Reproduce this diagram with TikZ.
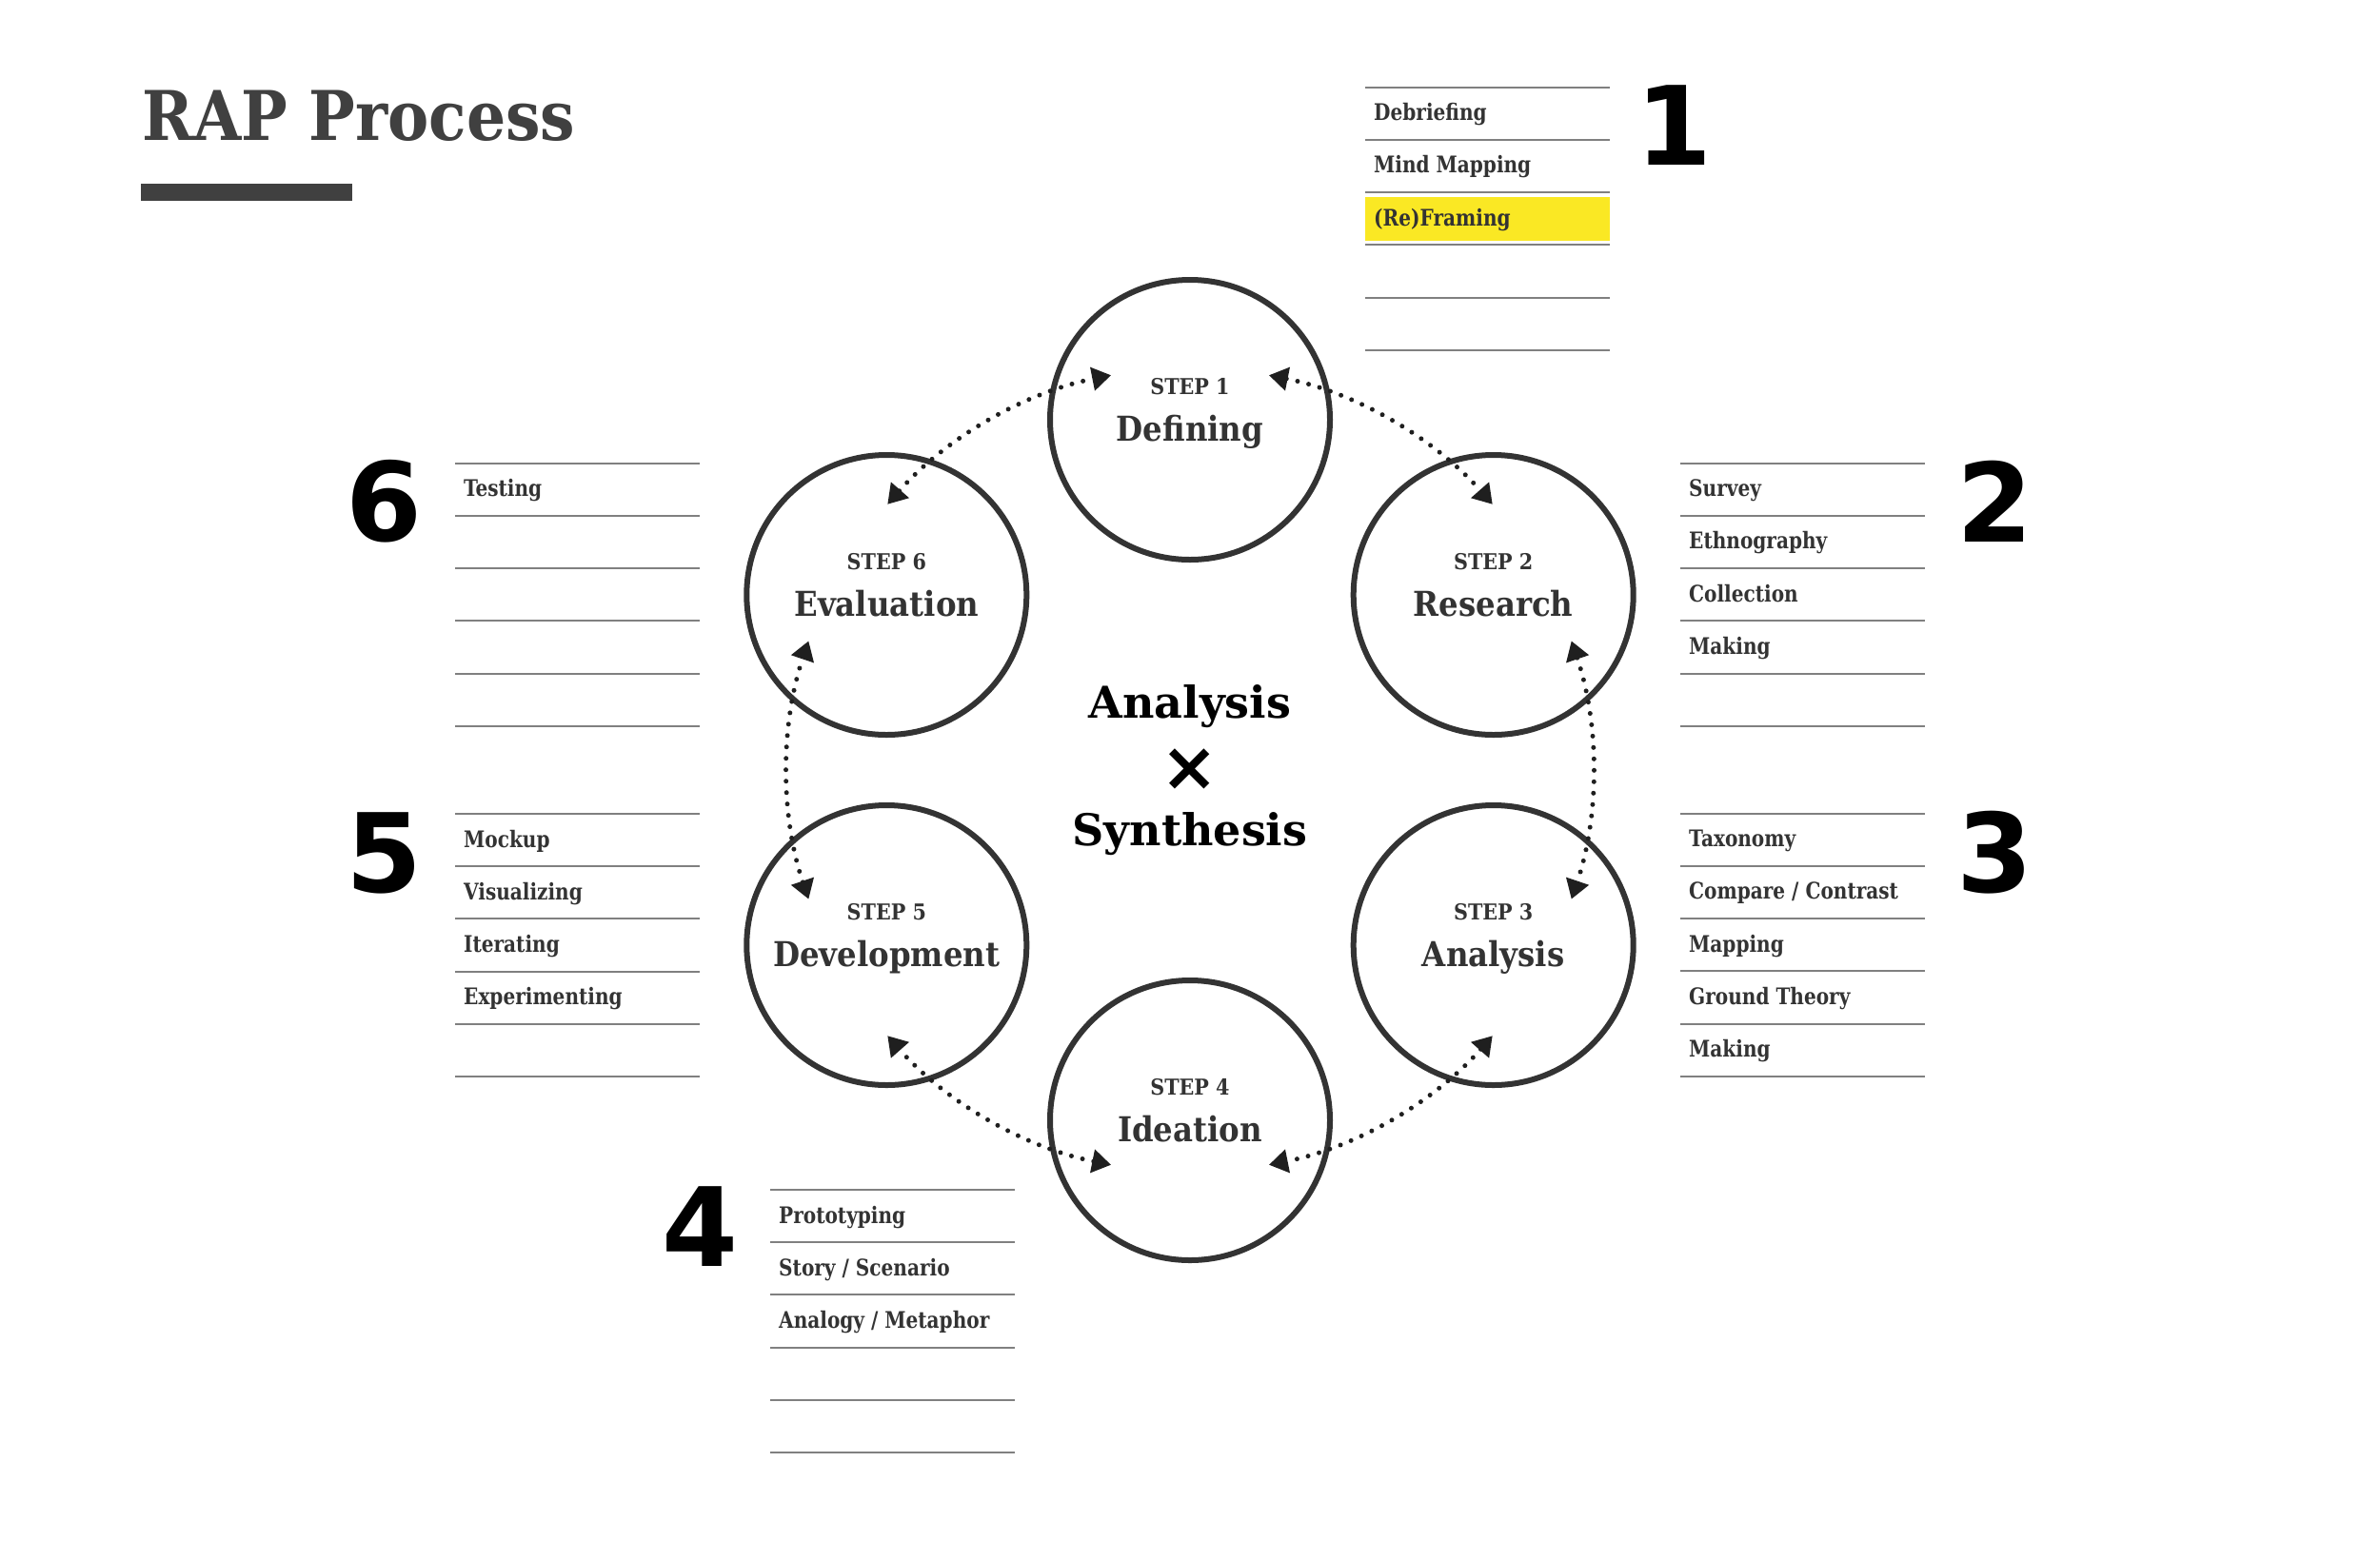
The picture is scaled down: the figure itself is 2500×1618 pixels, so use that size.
\documentclass[tikz,border=0pt]{standalone}
\usepackage{fontspec}
\setmainfont{DejaVu Serif Condensed}
\newfontfamily\numfont{DejaVu Sans}
\newfontfamily\widefont{DejaVu Serif}
\usetikzlibrary{arrows.meta,calc}
\definecolor{ink}{HTML}{333333}
\definecolor{rulegray}{HTML}{808080}
\definecolor{hl}{HTML}{FAE824}
\definecolor{titlegray}{HTML}{404040}
\tikzset{
  stepcircle/.style={circle, draw=ink, line width=6pt, minimum size=294pt, inner sep=0pt, fill=white},
  steplabel/.style={font=\bfseries\fontsize{23}{23}\selectfont, text=ink, anchor=base, inner sep=0pt},
  stepname/.style={font=\bfseries\fontsize{36}{36}\selectfont, text=ink, anchor=base, inner sep=0pt},
  listitem/.style={font=\bfseries\fontsize{24}{24}\selectfont, text=ink, anchor=base west, inner sep=0pt},
  listrule/.style={draw=rulegray, line width=2pt},
  bignum/.style={font=\numfont\bfseries\fontsize{115}{115}\selectfont, text=black, inner sep=0pt},
  centertext/.style={font=\widefont\bfseries\fontsize{46}{46}\selectfont, text=black, anchor=base, inner sep=0pt},
  cyclearrow/.style={line width=5pt, line cap=round, dash pattern=on 0pt off 12pt, draw=black!88,
    {Triangle[length=20pt,width=24pt]}-{Triangle[length=20pt,width=24pt]}},
}
\newcommand\rapdrawlist[4]{%
  \foreach \k in {0,...,5} \draw[listrule] (#1,#2+\k*55.2) -- ++(257,0);
  \foreach \t [count=\k from 0] in {#4} \node[listitem] (#3-\k) at (#1+9,#2+35+\k*55.2) {\scalebox{0.93}[1]{\t}};
}
\begin{document}
\begin{tikzpicture}[x=1pt,y=-1pt]
\useasboundingbox (0,0) rectangle (2500,1618);
\fill[white] (0,0) rectangle (2500,1618);

% title
\node[anchor=base west, inner sep=0pt, font=\bfseries\fontsize{72}{72}\selectfont, text=titlegray] (title) at (149,147) {RAP Process};
\fill[titlegray] (148,193) rectangle (370,211);

% circles
\coordinate (O) at (1250,809);
\foreach \i/\ang in {1/-90,2/-30,3/30,4/90,5/150,6/210}
  \node[stepcircle] (s\i) at ($(O)+(\ang:368)$) {};

\foreach \i/\nm in {1/Defining,2/Research,3/Analysis,4/Ideation,5/Development,6/Evaluation}{
  \node[steplabel] (st\i) at ($(s\i.center)+(0,-27)$) {STEP \i};
  \node[stepname] (nm\i) at ($(s\i.center)+(0,22)$) {\nm};
}

% dotted double arrows
\foreach \a/\b [count=\j] in {-78.7/-41.3, -18.7/18.7, 41.3/78.7, 101.3/138.7, 161.3/198.7, 221.3/258.7}{
  \coordinate (c\j) at ($(O)+(\a:423)$);
  \draw[cyclearrow] (c\j) arc[start angle=\a, end angle=\b, radius=423];
}

% center text
\node[centertext] (ana) at (1250,754) {Analysis};
\node[font=\numfont\bfseries\fontsize{72}{72}\selectfont, text=black, inner sep=0pt] (times) at (1250,809) {×};
\node[centertext] (syn) at (1250,888) {Synthesis};

% lists
\fill[hl] (1434,207) rectangle (1691,252.5);
\rapdrawlist{1434}{91.7}{la}{Debriefing,Mind Mapping,(Re)Framing}
\rapdrawlist{1765}{486.7}{lb}{Survey,Ethnography,Collection,Making}
\rapdrawlist{1765}{854.7}{lc}{Taxonomy,Compare / Contrast,Mapping,Ground Theory,Making}
\rapdrawlist{809}{1250}{ld}{Prototyping,Story / Scenario,Analogy / Metaphor}
\rapdrawlist{478}{855}{le}{Mockup,Visualizing,Iterating,Experimenting}
\rapdrawlist{478}{486.7}{lf}{Testing}

% big numbers
\node[bignum] (n1) at (1758,132) {1};
\node[bignum] (n2) at (2095,527) {2};
\node[bignum] (n3) at (2095,896) {3};
\node[bignum] (n4) at (735,1289) {4};
\node[bignum] (n5) at (404,896) {5};
\node[bignum] (n6) at (404,527) {6};
\end{tikzpicture}
\end{document}
